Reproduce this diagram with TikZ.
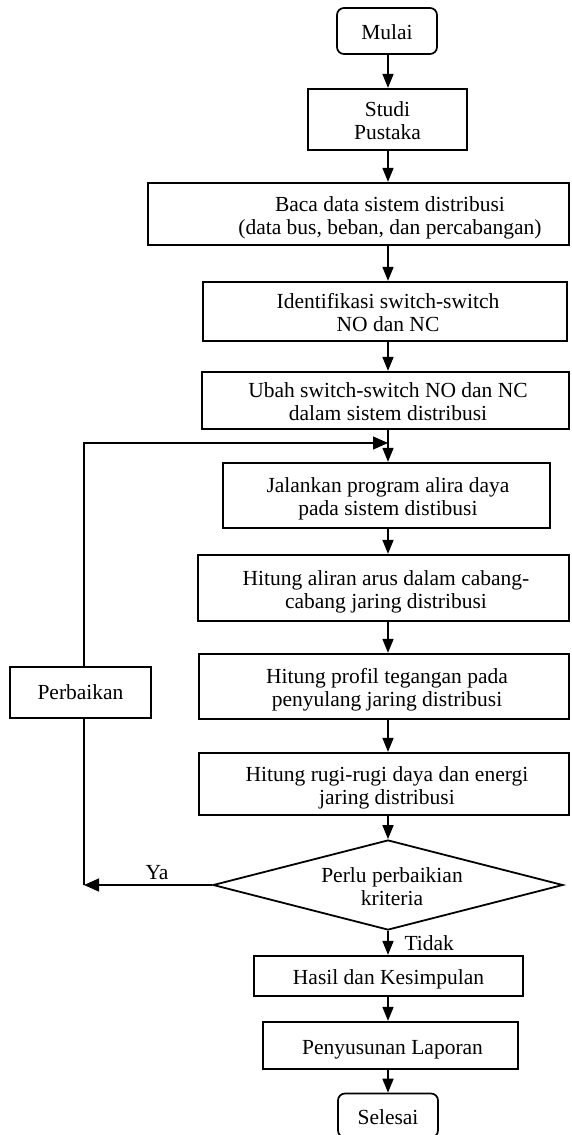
\documentclass[tikz,border=0pt]{standalone}
\usepackage{fontspec}
\setmainfont{Liberation Serif}
\usetikzlibrary{arrows.meta,shapes.geometric}
\newcommand\offtext[2]{\hspace*{#1}\raisebox{-4pt}[\height][\depth]{\begin{tabular}{@{}c@{}}#2\end{tabular}}}
\tikzset{
  box/.style={draw, line width=2.3pt, inner sep=0pt, fill=white},
  term/.style={draw, line width=1.7pt, rounded corners=7pt, inner sep=0pt, minimum width=100pt, fill=white},
  dec/.style={draw, diamond, aspect=3.9, line width=1.8pt, inner sep=0pt, minimum width=350pt, minimum height=90pt},
  arr/.style={line width=1.7pt, -{Triangle[length=14pt,width=11pt]}},
  loopline/.style={line width=1.2pt},
  looparr/.style={line width=1.2pt, -{Triangle[length=15pt,width=13pt]}},
}
\begin{document}
\begin{tikzpicture}[x=1pt,y=-1pt,font=\fontsize{21.5}{23}\selectfont]
\useasboundingbox (0,0) rectangle (571,1135);
\coordinate (axis) at (388,0);
\coordinate (ycorner) at (84,885);
\coordinate (tcorner) at (84,443);
\coordinate (join) at (388,443);

\node[term, minimum height=46pt] (mulai) at (387,31) {\offtext{0pt}{Mulai}};
\node[box, minimum width=159pt, minimum height=61pt] (studi) at (387.5,119.5) {\offtext{0pt}{Studi\\Pustaka}};
\node[box, minimum width=421pt, minimum height=62pt] (baca) at (358.5,214) {\offtext{63pt}{Baca data sistem distribusi\\(data bus, beban, dan percabangan)}};
\node[box, minimum width=364pt, minimum height=59pt] (ident) at (385,311.5) {\offtext{6pt}{Identifikasi switch-switch\\NO dan NC}};
\node[box, minimum width=367pt, minimum height=57pt] (ubah) at (385.5,400.5) {\offtext{5pt}{Ubah switch-switch NO dan NC\\dalam sistem distribusi}};
\node[box, minimum width=327pt, minimum height=65pt] (jalan) at (386.5,495.5) {\offtext{3pt}{Jalankan program alira daya\\pada sistem distibusi}};
\node[box, minimum width=371pt, minimum height=66pt] (aliran) at (383.5,588) {\offtext{5pt}{Hitung aliran arus dalam cabang-\\cabang jaring distribusi}};
\node[box, minimum width=370pt, minimum height=65pt] (profil) at (384,686.5) {\offtext{6pt}{Hitung profil tegangan pada\\penyulang jaring distribusi}};
\node[box, minimum width=370pt, minimum height=62pt] (rugi) at (384,784) {\offtext{6pt}{Hitung rugi-rugi daya dan energi\\jaring distribusi}};
\node[dec] (kriteria) at (388,885) {\offtext{8pt}{Perlu perbaikian\\kriteria}};
\node[box, minimum width=269pt, minimum height=40pt] (hasil) at (388.5,976) {\offtext{0pt}{Hasil dan Kesimpulan}};
\node[box, minimum width=255pt, minimum height=47pt] (lapor) at (390.5,1045.5) {\offtext{4pt}{Penyusunan Laporan}};
\node[term, minimum height=44pt] (selesai) at (388,1115.5) {\offtext{0pt}{Selesai}};
\node[box, minimum width=141pt, minimum height=51pt] (perb) at (80.5,692.5) {Perbaikan};

\draw[arr] (mulai.south -| axis) -- (studi.north -| axis);
\draw[arr] (studi.south -| axis) -- (baca.north -| axis);
\draw[arr] (baca.south -| axis) -- (ident.north -| axis);
\draw[arr] (ident.south -| axis) -- (ubah.north -| axis);
\draw[arr] (ubah.south -| axis) -- (jalan.north -| axis);
\draw[arr] (jalan.south -| axis) -- (aliran.north -| axis);
\draw[arr] (aliran.south -| axis) -- (profil.north -| axis);
\draw[arr] (profil.south -| axis) -- (rugi.north -| axis);
\draw[arr] (rugi.south -| axis) -- (kriteria.north);
\draw[arr] (kriteria.south) -- (hasil.north -| axis);
\draw[arr] (hasil.south -| axis) -- (lapor.north -| axis);
\draw[arr] (lapor.south -| axis) -- (selesai.north -| axis);

\draw[looparr] (kriteria.west) -- (ycorner);
\draw[loopline] (ycorner) -- (perb.south -| ycorner);
\draw[looparr] (perb.north -| ycorner) -- (tcorner) -- (join);

\node (ya) at (157,873) {Ya};
\node[anchor=west] (tidak) at (401,943) {Tidak};
\end{tikzpicture}
\end{document}
